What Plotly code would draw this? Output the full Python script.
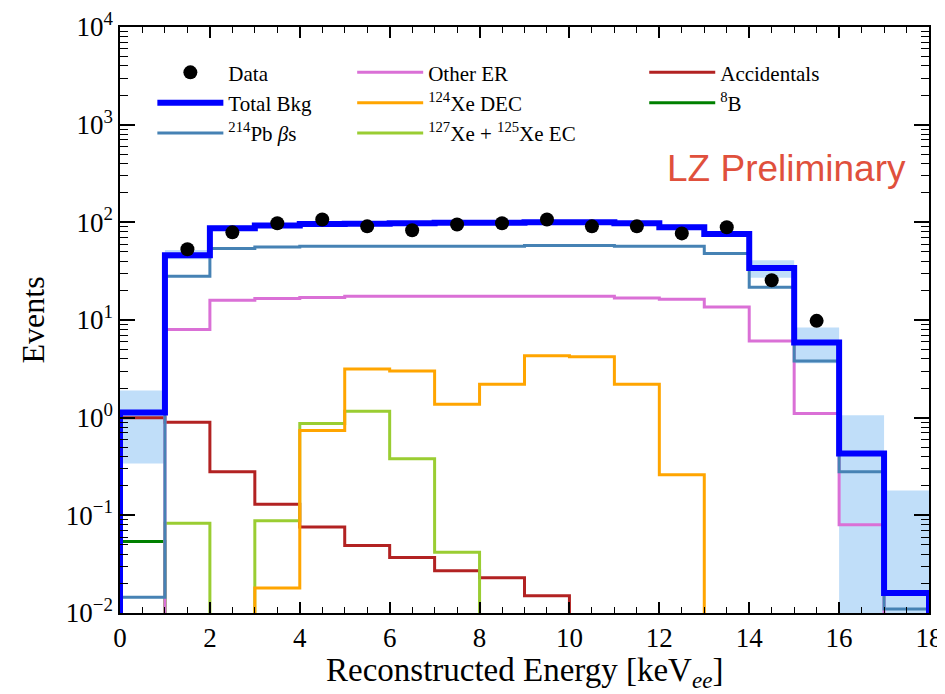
import plotly.graph_objects as go

# ---------------- data ----------------
edges = list(range(0, 19))
centers = [e + 0.5 for e in range(18)]

total_bkg = [1.13, 46, 87, 93, 96, 97, 98, 99, 99, 100, 100, 98, 89, 76, 34, 5.9, 0.43, 0.016]
band_lo = [0.34, 42, 82, 88, 91, 92, 93, 94, 94, 95, 95, 93, 84, 71, 27, 3.6, 0, 0]
band_hi = [1.9, 52, 93, 98, 101, 102, 103, 104, 104, 105, 105, 103, 95, 81, 41, 8.4, 1.06, 0.18]

data_x = [1.5, 2.5, 3.5, 4.5, 5.5, 6.5, 7.5, 8.5, 9.5, 10.5, 11.5, 12.5, 13.5, 14.5, 15.5]
data_y = [53, 79, 98, 107, 91, 83, 95, 98, 107, 91, 91, 77, 89, 25.5, 9.8]

pb214 = [0.0145, 28, 54, 56, 57, 57, 57, 57, 57, 58, 58, 57, 57, 48, 21.6, 3.8, 0.28, 0.011]
other_er = [0, 8.0, 15.9, 16.6, 17.0, 17.5, 17.5, 17.5, 17.5, 17.5, 17.5, 16.8, 16.3, 13.6, 6.1, 1.1, 0.08, 0]
xe124 = [0, 0, 0, 0.018, 0.74, 3.15, 3.0, 1.37, 2.2, 4.3, 4.2, 2.2, 0.26, 0, 0, 0, 0, 0]
xe127 = [0, 0.083, 0, 0.088, 0.87, 1.16, 0.38, 0.042, 0, 0, 0, 0, 0, 0, 0, 0, 0, 0]
accidentals = [1.0, 0.9, 0.28, 0.13, 0.076, 0.049, 0.037, 0.027, 0.023, 0.015, 0, 0, 0, 0, 0, 0, 0, 0]
b8 = [0.054, 0, 0, 0, 0, 0, 0, 0, 0, 0, 0, 0, 0, 0, 0, 0, 0, 0]

ytick_vals = [1e-2, 1e-1, 1e0, 1e1, 1e2, 1e3, 1e4]
ytick_text = ["10<sup>\u22122</sup>", "10<sup>\u22121</sup>", "10<sup>0</sup>", "10<sup>1</sup>",
              "10<sup>2</sup>", "10<sup>3</sup>", "10<sup>4</sup>"]

FLOOR = 1e-5
SERIF = "Liberation Serif"


def step(vals):
    v = [max(a, FLOOR) for a in vals]
    xs = [edges[0]] + edges + [edges[-1]]
    ys = [FLOOR] + v + [v[-1], FLOOR]
    return xs, ys


fig = go.Figure()

# uncertainty band
fig.add_trace(go.Bar(
    x=centers,
    y=[max(h, FLOOR) - max(l, FLOOR) for h, l in zip(band_hi, band_lo)],
    base=[max(l, FLOOR) for l in band_lo],
    width=1.0,
    marker=dict(color="rgba(150,200,245,0.6)", line=dict(width=0)),
    showlegend=False, hoverinfo="skip"))

components = [
    ("<sup>8</sup>B", b8, "#008000", 3, "legend3", 2),
    ("Accidentals", accidentals, "#b22222", 3, "legend3", 1),
    ("<sup>127</sup>Xe + <sup>125</sup>Xe EC", xe127, "#9acd32", 3, "legend2", 3),
    ("<sup>124</sup>Xe DEC", xe124, "#ffa500", 3, "legend2", 2),
    ("Other ER", other_er, "#da70d6", 3, "legend2", 1),
    ("<sup>214</sup>Pb <i>\u03b2</i>s", pb214, "#4682b4", 3, "legend", 3),
    ("Total Bkg", total_bkg, "#0000ff", 6, "legend", 2),
]
for name, vals, col, w, lg, rank in components:
    xs, ys = step(vals)
    fig.add_trace(go.Scatter(x=xs, y=ys, mode="lines", line_shape="hv",
                             line=dict(color=col, width=w), name=name,
                             legend=lg, legendrank=rank))

fig.add_trace(go.Scatter(x=data_x, y=data_y, mode="markers", name="Data",
                         marker=dict(color="black", size=14), legend="legend", legendrank=1))

leg_common = dict(bgcolor="rgba(0,0,0,0)", borderwidth=0, yanchor="top", y=0.957,
                  xanchor="left", font=dict(family=SERIF, size=21, color="black"),
                  traceorder="normal", tracegroupgap=0, itemwidth=66)

# page body has an 8px default margin; figure is sized so that it ends at the window edge
fig.update_layout(
    width=937, height=686,
    margin=dict(l=112, r=16, t=19, b=81),
    paper_bgcolor="white", plot_bgcolor="white",
    font=dict(family=SERIF, color="black"),
    legend=dict(x=0.04, **leg_common),
    legend2=dict(x=0.287, **leg_common),
    legend3=dict(x=0.648, **leg_common),
    xaxis=dict(range=[0, 18], tickvals=list(range(0, 19, 2)), ticks="inside", ticklen=11,
               tickwidth=1.5, tickcolor="black", showline=True, linecolor="black", linewidth=1.5,
               mirror="ticks", showgrid=False, zeroline=False, automargin=False,
               ticklabeloverflow="allow",
               minor=dict(dtick=0.5, ticks="inside", ticklen=6, tickwidth=1.2, tickcolor="black", showgrid=False),
               tickfont=dict(family=SERIF, size=27)),
    yaxis=dict(type="log", range=[-2, 4], tickvals=ytick_vals, ticktext=ytick_text,
               ticks="inside", ticklen=15, tickwidth=1.5, tickcolor="black",
               showline=True, linecolor="black", linewidth=1.5, mirror="ticks",
               showgrid=False, zeroline=False, automargin=False,
               minor=dict(dtick="D1", ticks="inside", ticklen=8, tickwidth=1.2, tickcolor="black", showgrid=False),
               tickfont=dict(family=SERIF, size=27)),
    annotations=[
        dict(text="LZ Preliminary", xref="paper", yref="paper", x=0.974, y=0.759,
             xanchor="right", yanchor="middle", showarrow=False,
             font=dict(family="Liberation Sans", size=37, color="#e0503c")),
        dict(text="Reconstructed Energy [keV<sub><i>ee</i></sub>]", xref="paper", yref="paper",
             x=0.5, y=-0.101, xanchor="center", yanchor="middle", showarrow=False,
             font=dict(family=SERIF, size=33, color="black")),
        dict(text="Events", xref="paper", yref="paper", x=-0.107, y=0.5, textangle=-90,
             xanchor="center", yanchor="middle", showarrow=False,
             font=dict(family=SERIF, size=32, color="black")),
    ],
)

fig.write_html("out.html")
